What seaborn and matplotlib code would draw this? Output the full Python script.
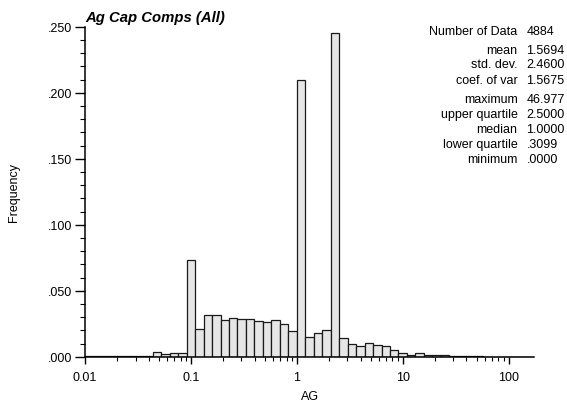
import numpy as np
import pandas as pd
import seaborn as sns
import matplotlib.pyplot as plt
from matplotlib.ticker import FuncFormatter, MultipleLocator, LogLocator, FixedLocator

# relative frequency per bin, bins are 0.08 wide in log10 units from 0.01
freq = [0.0006, 0.0002, 0.0003, 0.0002, 0.0004, 0.0003, 0.0004, 0.0005,
        0.0033, 0.0020, 0.0026, 0.0026,
        0.0735,
        0.0210, 0.0318, 0.0313, 0.0280, 0.0291, 0.0288, 0.0288, 0.0268,
        0.0265, 0.0276, 0.0245, 0.0197,
        0.2098,
        0.0149, 0.0180, 0.0205,
        0.2455,
        0.0144, 0.0096, 0.0079, 0.0104, 0.0089, 0.0079, 0.0053,
        0.0026, 0.0015, 0.0026, 0.0013, 0.0013, 0.0010, 0.0005, 0.0005,
        0.0003, 0.0002, 0.0, 0.0, 0.0, 0.0, 0.0, 0.0]
log_start = -2.0
bin_w = 0.08

stat_names = ["Number of Data", "mean", "std. dev.", "coef. of var",
              "maximum", "upper quartile", "median", "lower quartile", "minimum"]
stat_vals = ["4884", "1.5694", "2.4600", "1.5675",
             "46.977", "2.5000", "1.0000", ".3099", ".0000"]
stat_rows_y = [32, 51, 65.5, 80.5, 100, 115, 130, 145, 160]  # pixel rows

edges = log_start + bin_w * np.arange(len(freq) + 1)
centers = 10 ** ((edges[:-1] + edges[1:]) / 2)
df = pd.DataFrame({"AG": centers, "w": freq})

sns.set_style("ticks")
plt.rcParams["font.family"] = ["Liberation Sans", "DejaVu Sans"]
plt.rcParams.update({"text.color": "black", "axes.labelcolor": "black",
                     "xtick.color": "black", "ytick.color": "black"})

W, H = 567, 414
fig = plt.figure(figsize=(W / 100, H / 100), dpi=100)
ax = fig.add_axes([85 / W, 1 - 357.7 / H, (534 - 85) / W, (357.7 - 27.7) / H])

sns.histplot(data=df, x="AG", weights="w", bins=list(edges), log_scale=True,
             color="#e6e6e6", edgecolor="#1a1a1a", linewidth=0.9, alpha=1,
             ax=ax)

ax.set_xlim(10 ** -2, 10 ** 2.24)
ax.set_ylim(0, 0.25)
sns.despine(ax=ax)
for s in ["left", "bottom"]:
    ax.spines[s].set_linewidth(1.1)
    ax.spines[s].set_color("black")

ax.xaxis.set_major_locator(FixedLocator([0.01, 0.1, 1, 10, 100]))
ax.xaxis.set_major_formatter(FuncFormatter(lambda v, p: "{:g}".format(v)))
ax.xaxis.set_minor_locator(LogLocator(base=10, subs=np.arange(2, 10), numticks=20))
ax.yaxis.set_major_locator(MultipleLocator(0.05))
ax.yaxis.set_minor_locator(MultipleLocator(0.01))
ax.yaxis.set_major_formatter(FuncFormatter(lambda v, p: "{:.3f}".format(v).lstrip("0")))
ax.tick_params(which="major", width=1, labelsize=9)
ax.tick_params(which="minor", width=0.8)
ax.tick_params(axis="y", which="major", length=7, pad=2)
ax.tick_params(axis="y", which="minor", length=3.6)
ax.tick_params(axis="x", which="major", length=5, pad=5)
ax.tick_params(axis="x", which="minor", length=3)

ax.set_xlabel("AG", fontsize=9, labelpad=5)
ax.set_ylabel("Frequency", fontsize=9, labelpad=20)
ax.text(0.0, 1.018, "Ag Cap Comps (All)", transform=ax.transAxes,
        fontsize=10.7, fontweight="bold", fontstyle="italic", ha="left", va="baseline")

for name, val, yy in zip(stat_names, stat_vals, stat_rows_y):
    fig.text(517.5 / W, 1 - yy / H, name, ha="right", va="center", fontsize=9)
    fig.text(526.5 / W, 1 - yy / H, val, ha="left", va="center", fontsize=9)

fig.savefig("out.png", dpi=100)
